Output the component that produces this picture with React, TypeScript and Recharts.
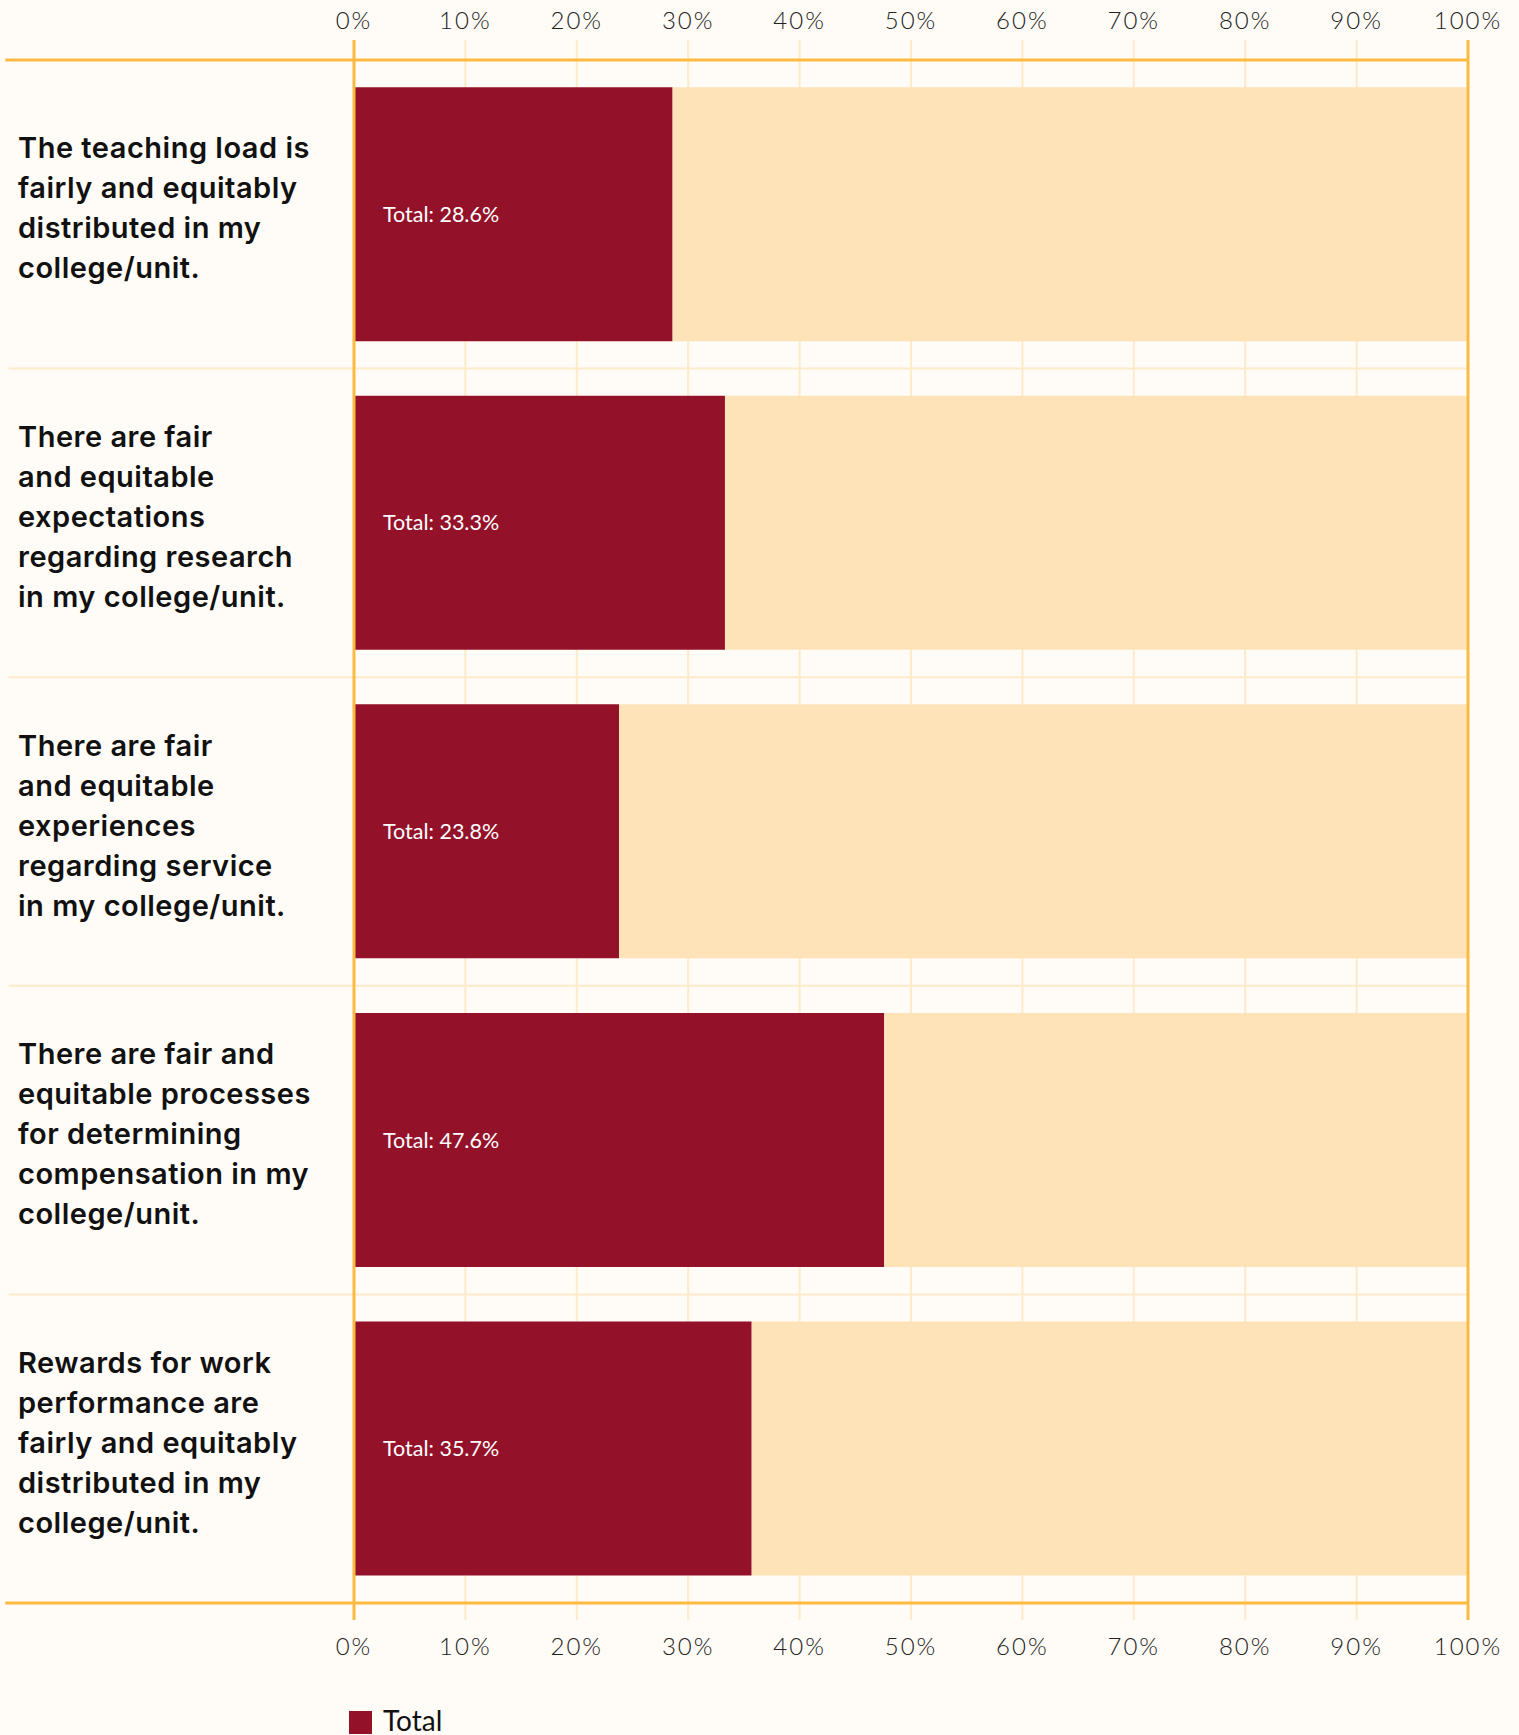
import React from 'react';
import {
  BarChart,
  Bar,
  XAxis,
  YAxis,
  CartesianGrid,
  ReferenceLine,
  LabelList,
  Legend,
} from 'recharts';

// ---------- data ----------
const categories: string[] = [
  'The teaching load is\nfairly and equitably\ndistributed in my\ncollege/unit.',
  'There are fair\nand equitable\nexpectations\nregarding research\nin my college/unit.',
  'There are fair\nand equitable\nexperiences\nregarding service\nin my college/unit.',
  'There are fair and\nequitable processes\nfor determining\ncompensation in my\ncollege/unit.',
  'Rewards for work\nperformance are\nfairly and equitably\ndistributed in my\ncollege/unit.',
];
const totalValues: number[] = [28.6, 33.3, 23.8, 47.6, 35.7];
const xTicks: number[] = [0, 10, 20, 30, 40, 50, 60, 70, 80, 90, 100];
const seriesName = 'Total';

const data = categories.map((c, i) => ({
  category: c,
  total: totalValues[i],
  rest: 100 - totalValues[i],
}));

// band boundaries: start of every category, plus end of the last one
const separators = [
  ...categories.map((c, i) => ({ cat: c, position: 'start' as const, outer: i === 0 })),
  { cat: categories[categories.length - 1], position: 'end' as const, outer: true },
];

// ---------- style ----------
const BG = '#fffbf6';
const MAROON = '#93122a';
const LIGHT = '#fee3b9';
const ORANGE = '#fdba40';
const GRID = '#feebc9';
const TICK_FONT = 'Lato, "Open Sans", sans-serif';
const LABEL_FONT = 'Inter, "Liberation Sans", Arial, sans-serif';

const QuestionTick = (props: any) => {
  const { y, payload } = props;
  const lines = String(payload.value).split('\n');
  const lh = 40;
  const first = y + 4 - ((lines.length - 1) * lh) / 2;
  return (
    <text
      fontFamily={LABEL_FONT}
      fontWeight={600}
      fontSize={29}
      letterSpacing={0.5}
      fill="#111111"
      textAnchor="start"
    >
      {lines.map((l, i) => (
        <tspan key={i} x={18} y={first + i * lh}>
          {l}
        </tspan>
      ))}
    </text>
  );
};

const TotalLabel = (props: any) => {
  const { x, y, height, value } = props;
  return (
    <text
      x={x + 29}
      y={y + height / 2}
      dy="0.36em"
      fill="#ffffff"
      fontFamily={TICK_FONT}
      fontSize={21.5}
      fontWeight={400}
    >
      {`${seriesName}: ${value}%`}
    </text>
  );
};

const LegendContent = () => (
  <div style={{ display: 'flex', alignItems: 'flex-start' }}>
    <div style={{ width: 23, height: 23, background: MAROON, marginRight: 11 }} />
    <div
      style={{
        fontFamily: TICK_FONT,
        fontSize: 28,
        lineHeight: '28px',
        marginTop: -5,
        color: '#111',
      }}
    >
      {seriesName}
    </div>
  </div>
);

const pct = (v: number) => `${v}%`;
const tickStyle = {
  fill: '#222',
  fontFamily: TICK_FONT,
  fontSize: 24,
  fontWeight: 300,
  letterSpacing: 2,
};

export default function App() {
  return (
    <div
      style={{
        position: 'absolute',
        left: 0,
        top: 0,
        width: 1519,
        height: 1735,
        background: BG,
        overflow: 'hidden',
      }}
    >
      <BarChart
        width={1519}
        height={1735}
        data={data}
        layout="vertical"
        margin={{ top: 0, right: 51, bottom: 0, left: 0 }}
        barCategoryGap="8.8%"
      >
        <CartesianGrid horizontal={false} stroke={GRID} strokeWidth={2} />
        <XAxis
          xAxisId="top"
          orientation="top"
          type="number"
          domain={[0, 100]}
          allowDataOverflow
          ticks={xTicks}
          tickFormatter={pct}
          height={40}
          axisLine={false}
          tickLine={false}
          tickSize={0}
          tickMargin={11}
          interval={0}
          tick={tickStyle}
        />
        <XAxis
          type="number"
          domain={[0, 100]}
          ticks={xTicks}
          tickFormatter={pct}
          height={91}
          axisLine={false}
          tickLine={false}
          tickSize={0}
          tickMargin={18}
          interval={0}
          tick={tickStyle}
        />
        <YAxis
          type="category"
          dataKey="category"
          width={354}
          axisLine={false}
          tickLine={false}
          padding={{ top: 20, bottom: 17 }}
          tick={<QuestionTick />}
          interval={0}
        />
        {separators.map((s, k) => (
          <ReferenceLine
            key={`sep-${k}`}
            ifOverflow="visible"
            position={s.position}
            segment={[
              { x: s.outer ? -31.3 : -31, y: s.cat },
              { x: 100, y: s.cat },
            ]}
            stroke={s.outer ? ORANGE : GRID}
            strokeWidth={s.outer ? 3 : 2}
          />
        ))}
        <Bar
          dataKey="total"
          name={seriesName}
          stackId="a"
          fill={MAROON}
          isAnimationActive={false}
        >
          <LabelList dataKey="total" content={<TotalLabel />} />
        </Bar>
        <Bar
          dataKey="rest"
          stackId="a"
          fill={LIGHT}
          legendType="none"
          isAnimationActive={false}
        />
        <ReferenceLine x={0} stroke={ORANGE} strokeWidth={3} ifOverflow="visible" />
        <ReferenceLine x={100} stroke={ORANGE} strokeWidth={3} ifOverflow="visible" />
        <Legend
          verticalAlign="bottom"
          align="left"
          wrapperStyle={{ left: 349, top: 1711, width: 300, height: 24 }}
          content={<LegendContent />}
        />
      </BarChart>
    </div>
  );
}
